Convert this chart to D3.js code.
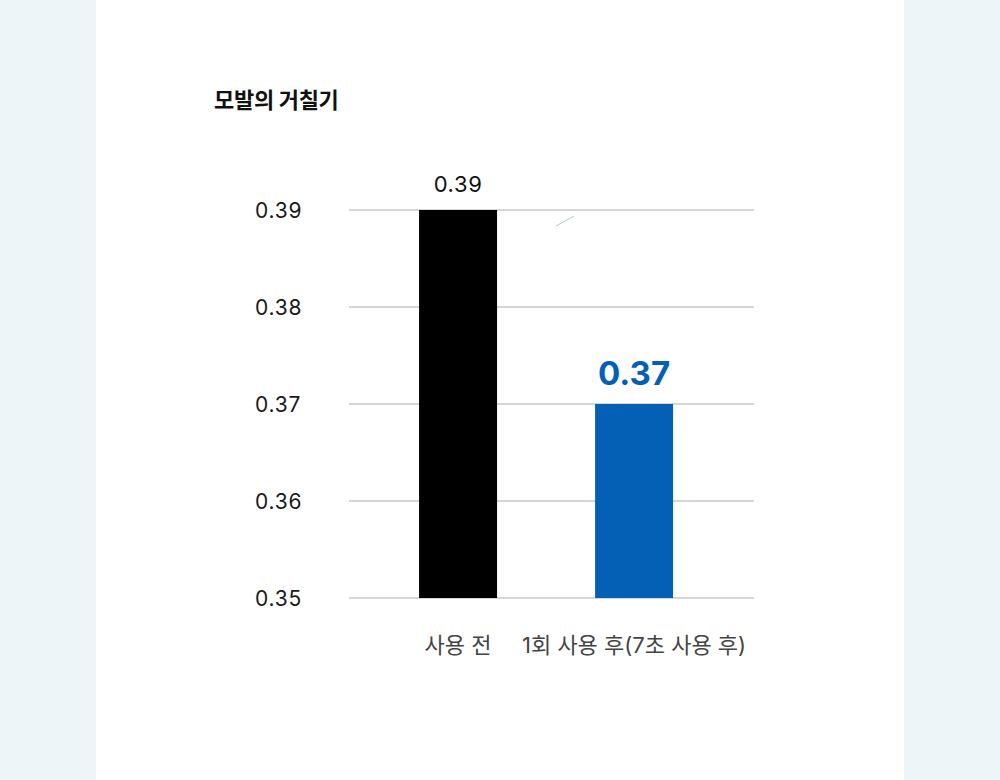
<!DOCTYPE html>
<html>
<head>
<meta charset="utf-8">
<script src="https://cdn.jsdelivr.net/npm/d3@7"></script>
<style>
  html, body { margin: 0; padding: 0; background: #edf5f9; }
  #chart { width: 1000px; height: 780px; }
  text { font-family: Inter, "Noto Sans CJK KR", sans-serif; }
</style>
</head>
<body>
<div id="chart"></div>
<script>
const categories = ['사용 전', '1회 사용 후(7초 사용 후)'];
const values = [0.39, 0.37];
const valueLabels = ['0.39', '0.37'];
const tickValues = [0.35, 0.36, 0.37, 0.38, 0.39];
const chartTitle = '모발의 거칠기';

const W = 1000, H = 780;
const svg = d3.select('#chart').append('svg')
    .attr('width', W).attr('height', H);

// white card in the middle
svg.append('rect')
    .attr('x', 96).attr('y', 0)
    .attr('width', 808).attr('height', H)
    .attr('fill', '#ffffff');

svg.append('text')
    .attr('x', 214).attr('y', 108)
    .attr('font-size', 22).attr('font-weight', 700)
    .attr('letter-spacing', -0.3)
    .attr('fill', '#111')
    .text(chartTitle);

const x = d3.scaleBand()
    .domain(categories)
    .range([349, 754])
    .paddingInner(0.557)
    .paddingOuter(0.429)
    .align(0.464);

const y = d3.scaleLinear()
    .domain([0.35, 0.39])
    .range([598, 210]);

// grid
svg.append('g')
    .selectAll('line')
    .data(tickValues)
    .join('line')
    .attr('x1', 349).attr('x2', 754)
    .attr('y1', (d) => y(d)).attr('y2', (d) => y(d))
    .attr('stroke', '#c8c8c8')
    .attr('stroke-width', 1.4);

// y tick labels
svg.append('g')
    .selectAll('text')
    .data(tickValues)
    .join('text')
    .attr('x', 255)
    .attr('y', (d) => y(d))
    .attr('dy', '0.36em')
    .attr('font-size', 21)
    .attr('letter-spacing', 0.8)
    .attr('fill', '#1a1a1a')
    .text((d) => d3.format('.2f')(d));

const colors = ['#000000', '#0460b4'];

svg.append('g')
    .selectAll('rect')
    .data(values)
    .join('rect')
    .attr('x', (d, i) => x(categories[i]))
    .attr('y', (d) => y(d))
    .attr('width', x.bandwidth())
    .attr('height', (d) => y(0.35) - y(d))
    .attr('fill', (d, i) => colors[i]);

// value labels
svg.append('g')
    .selectAll('text')
    .data(values)
    .join('text')
    .attr('x', (d, i) => x(categories[i]) + x.bandwidth() / 2)
    .attr('y', (d, i) => y(d) - (i === 0 ? 18 : 19))
    .attr('text-anchor', 'middle')
    .attr('font-size', (d, i) => (i === 0 ? 22 : 33))
    .attr('font-weight', (d, i) => (i === 0 ? 400 : 700))
    .attr('letter-spacing', (d, i) => (i === 0 ? 0.6 : 0))
    .attr('fill', (d, i) => (i === 0 ? '#111' : colors[i]))
    .text((d, i) => valueLabels[i]);

// category labels
svg.append('g')
    .selectAll('text')
    .data(categories)
    .join('text')
    .attr('x', (d) => x(d) + x.bandwidth() / 2)
    .attr('y', 653)
    .attr('text-anchor', 'middle')
    .attr('font-size', 22)
    .attr('fill', '#444')
    .text((d) => d);

// faint stray stroke seen in the original
svg.append('line')
    .attr('x1', 556).attr('y1', 226)
    .attr('x2', 574).attr('y2', 216)
    .attr('stroke', '#a9c8e8')
    .attr('stroke-width', 1);
</script>
</body>
</html>
